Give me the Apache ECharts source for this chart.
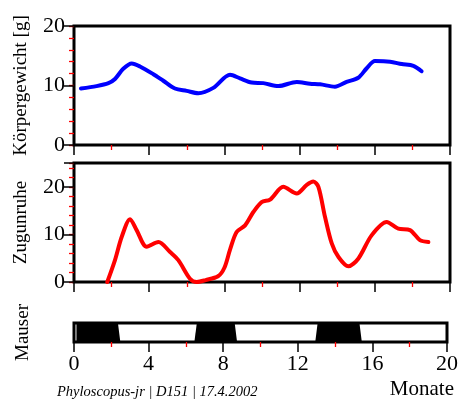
<!DOCTYPE html>
<html>
<head>
<meta charset="utf-8">
<script src="https://cdn.jsdelivr.net/npm/echarts@6/dist/echarts.min.js"></script>
<style>
html,body{margin:0;padding:0;background:#fff;}
#chart{width:461px;height:403px;}
</style>
</head>
<body>
<div id="chart"></div>
<script>
// Body mass (Körpergewicht) over months
const weightMonths = [0.37,1.2,1.83,2.18,2.62,3.07,3.51,4.22,4.75,5.37,5.99,6.61,7.41,8.3,8.83,9.45,10.07,10.87,11.85,12.55,13.09,13.88,14.5,15.12,15.57,16.01,16.81,17.43,18.05,18.49];
const weightValues = [9.5,9.9,10.4,11.1,12.8,13.7,13.2,11.9,10.8,9.5,9.1,8.7,9.6,11.8,11.2,10.5,10.4,9.9,10.6,10.3,10.2,9.8,10.6,11.3,12.9,14.1,14.0,13.6,13.3,12.4];

// Migratory restlessness (Zugunruhe) over months
const restMonths = [1.77,2.18,2.54,2.98,3.33,3.87,4.49,5.11,5.55,6.17,6.53,7.0,7.66,8.0,8.3,8.65,9.1,9.54,9.98,10.43,11.13,11.85,12.38,12.73,13.0,13.35,13.71,14.06,14.59,15.12,15.83,16.63,17.25,17.87,18.4,18.85];
const restValues = [0,4.6,9.5,13.2,10.9,7.4,8.4,6.3,4.6,0.7,0,0.4,1.2,3.0,6.8,10.5,11.9,14.7,16.8,17.3,20.0,18.6,20.4,21.1,20.0,13.7,8.1,5.3,3.3,4.9,9.8,12.6,11.2,10.9,8.8,8.4];

// Moult (Mauser) periods [start, end] in months
const moultStart = [0.13, 6.52, 13.0];
const moultEnd = [2.42, 8.68, 15.37];

// Tick labels
const monthTicks = [0,4,8,12,16,20];
const footerText = 'Phyloscopus-jr | D151 | 17.4.2002';

const FONT = '"Liberation Serif", "Times New Roman", serif';
const chart = echarts.init(document.getElementById('chart'), null, {renderer:'canvas'});

const grids = [
  {left:74, width:376, top:26, height:119},
  {left:74, width:376, top:163, height:119},
  {left:74, width:376, top:323, height:19}
].map(g => Object.assign(g, {show:true, borderColor:'#000', borderWidth:3, backgroundColor:'transparent'}));

function xAxisFor(i, showLabels){
  return {
    type:'value', gridIndex:i, min:0, max:20, interval:4,
    axisLine:{show:false},
    splitLine:{show:false},
    axisTick:{show:true, inside:false, length:10, lineStyle:{color:'#000', width:1.5}},
    minorTick:{show:true, splitNumber:2, length:5, lineStyle:{color:'#ff0000', width:1.3}},
    axisLabel:{show:showLabels, margin:11, color:'#000', fontFamily:FONT, fontSize:22,
      formatter: v => monthTicks.indexOf(v) >= 0 ? String(v) : ''}
  };
}

function yMajor(i, max, name){
  return {
    type:'value', gridIndex:i, min:0, max:max, interval:10, position:'left',
    name:name, nameLocation:'middle', nameGap:43,
    nameTextStyle:{color:'#000', fontFamily:FONT, fontSize:19},
    axisLine:{show:false}, splitLine:{show:false},
    axisTick:{show:true, length:10, lineStyle:{color:'#000', width:1.5}},
    axisLabel:{show:true, margin:9, color:'#000', fontFamily:FONT, fontSize:22,
      formatter: v => (v % 10 === 0) ? String(v) : ''}
  };
}
function yMinor(i, max){
  return {
    type:'value', gridIndex:i, min:0, max:max, interval:2, position:'left',
    axisLine:{show:false}, splitLine:{show:false},
    axisTick:{show:true, length:5, lineStyle:{color:'#ff0000', width:1.3}},
    axisLabel:{show:false}
  };
}

const option = {
  animation:false,
  backgroundColor:'#fff',
  grid: grids,
  xAxis: [xAxisFor(0,false), xAxisFor(1,false), xAxisFor(2,true)],
  yAxis: [
    yMinor(0, 20),
    yMajor(0, 20, 'Körpergewicht [g]'),
    yMinor(1, 25),
    yMajor(1, 25, 'Zugunruhe'),
    {type:'value', gridIndex:2, min:0, max:1, position:'left',
     name:'Mauser', nameLocation:'middle', nameGap:41,
     nameTextStyle:{color:'#000', fontFamily:FONT, fontSize:19},
     axisLine:{show:false}, splitLine:{show:false}, axisTick:{show:false}, axisLabel:{show:false}}
  ],
  series: [
    {type:'line', xAxisIndex:0, yAxisIndex:1, smooth:0.3, symbol:'none',
     lineStyle:{color:'#0000ff', width:4, cap:'round', join:'round'},
     data: weightMonths.map((m,i)=>[m, weightValues[i]])},
    {type:'line', xAxisIndex:1, yAxisIndex:3, smooth:0.3, symbol:'none',
     lineStyle:{color:'#ff0000', width:4, cap:'round', join:'round'},
     data: restMonths.map((m,i)=>[m, restValues[i]])},
    {type:'custom', xAxisIndex:2, yAxisIndex:4,
     data: moultStart.map((s,i)=>[s, moultEnd[i]]),
     encode:{x:[0,1]},
     renderItem: function(params, api){
       const s = api.value(0), e = api.value(1);
       const tl = api.coord([s,1]), bl = api.coord([s,0]);
       const tr = api.coord([e,1]), br = api.coord([e,0]);
       const k = 1.2;
       const ls = params.dataIndex === 0 ? 0 : k;
       return {type:'polygon', shape:{points:[[tl[0]+ls,tl[1]],[tr[0]-k,tr[1]],[br[0]+k,br[1]],[bl[0]-ls,bl[1]]]},
               style:{fill:'#000', stroke:null}};
     }}
  ],
  graphic: [
    {type:'text', left:57, top:385, style:{text:footerText, fill:'#000', font:'italic 14.5px ' + FONT}},
    {type:'text', right:7, top:379, style:{text:'Monate', fill:'#000', font:'21px ' + FONT}}
  ]
};
chart.setOption(option);
</script>
</body>
</html>
